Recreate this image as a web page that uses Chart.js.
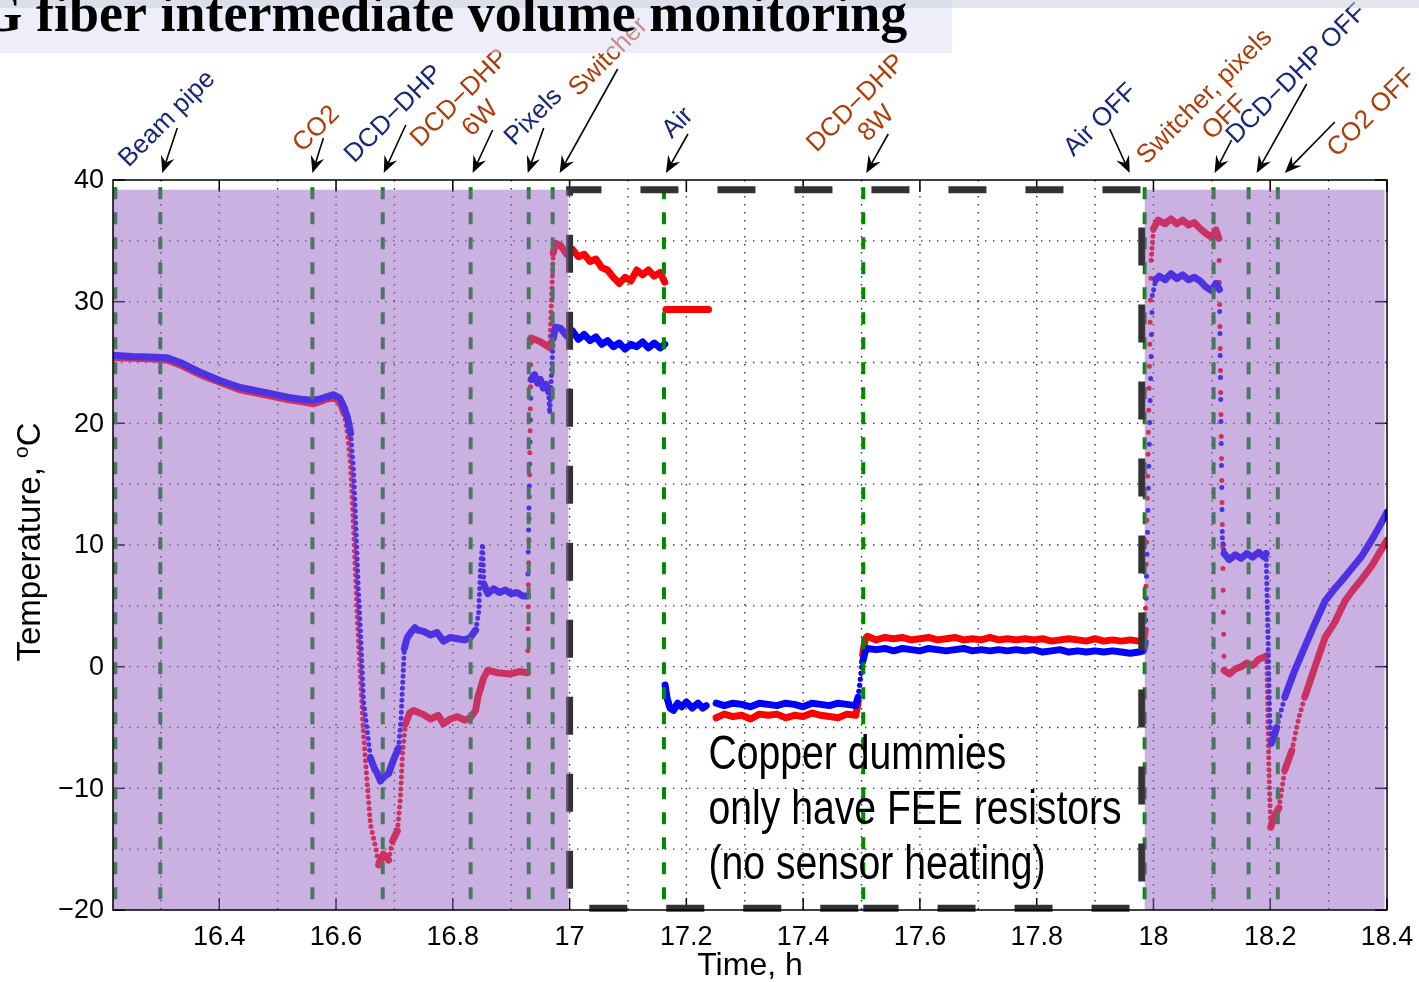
<!DOCTYPE html>
<html>
<head>
<meta charset="utf-8">
<script src="https://cdn.jsdelivr.net/npm/chart.js@4.4.1/dist/chart.umd.min.js"></script>
<style>
html, body { margin: 0; padding: 0; background: #fff; overflow: hidden; }
canvas { display: block; }
</style>
</head>
<body>
<canvas id="tempChart" width="1419" height="982"></canvas>
<script>
// sensor readings, time in hours, temperature in degC (null = no reading)
const redTime = [
  16.218, 16.25, 16.28, 16.31, 16.333, 16.367, 16.402, 16.436, 16.482, 16.517,
  16.545, 16.561, 16.573, 16.585, 16.596, 16.606, 16.614, 16.620, 16.625, 16.629,
  16.633, 16.637, 16.642, 16.647, 16.654, 16.659, 16.668, 16.673, 16.681, 16.690,
  16.697, 16.705, 16.710, 16.714, 16.719, 16.726, 16.733, 16.748, 16.762, 16.775,
  16.784, 16.796, 16.808, 16.82, 16.83, 16.839, 16.843, 16.848, 16.853, 16.86,
  16.877, 16.899, 16.914, 16.928,
  16.934, 16.94, 16.95, 16.96, 16.966, 16.969, 16.972, 16.976, 16.985, 16.995,
  17.005, 17.015, 17.025, 17.035, 17.045, 17.055, 17.065, 17.075, 17.085, 17.095,
  17.105, 17.115, 17.125, 17.135, 17.145, 17.155, 17.163,
  17.164,
  17.165, 17.238,
  17.245,
  17.251, 17.265, 17.28, 17.295, 17.31, 17.325, 17.34, 17.355, 17.37, 17.385,
  17.40, 17.415, 17.43, 17.445, 17.46, 17.475, 17.49,
  17.494, 17.498, 17.502, 17.506, 17.51,
  17.525, 17.54, 17.555, 17.57, 17.585, 17.60, 17.615, 17.63, 17.645, 17.66,
  17.675, 17.69, 17.705, 17.72, 17.735, 17.75, 17.765, 17.78, 17.795, 17.81,
  17.825, 17.84, 17.855, 17.87, 17.885, 17.90, 17.915, 17.93, 17.945, 17.96,
  17.975, 17.983,
  17.986, 17.996, 18.0, 18.008, 18.02, 18.03, 18.04, 18.05, 18.06, 18.07,
  18.08, 18.09, 18.1, 18.107, 18.112,
  18.121, 18.13, 18.14, 18.15, 18.16, 18.17, 18.18, 18.19, 18.194,
  18.196, 18.198, 18.201, 18.206, 18.215, 18.225, 18.237, 18.249, 18.259, 18.276,
  18.294, 18.31, 18.328, 18.34, 18.357, 18.374, 18.39, 18.4
];
const redTemp = [
  25.4, 25.35, 25.3, 25.2, 24.8, 24.0, 23.35, 22.75, 22.3, 21.95,
  21.75, 21.6, 21.8, 22.0, 22.1, 21.8, 20.8, 19.0, 16.5, 12.5,
  8.0, 3.5, -1.0, -5.5, -10.0, -13.0, -14.9, -16.3, -15.4, -15.9,
  -14.3, -13.5, -11.0, -7.0, -4.7, -3.8, -3.6, -3.9, -4.3, -4.0,
  -4.7, -4.3, -4.1, -4.4, -4.2, -3.6, -2.5, -1.7, -0.9, -0.3,
  -0.5, -0.6, -0.4, -0.5,
  27.0, 26.9, 26.7, 26.4, 26.2, 30.0, 34.0, 34.8, 34.6, 33.9,
  34.3, 33.7, 33.9, 33.3, 33.5, 32.8, 32.6, 32.0, 31.5, 32.0,
  31.7, 32.6, 32.2, 32.6, 32.1, 32.4, 31.6,
  null,
  29.35, 29.35,
  null,
  -4.2, -3.9, -4.1, -4.0, -4.3, -3.9, -4.0, -3.9, -4.2, -4.0,
  -4.1, -3.8, -4.0, -4.1, -4.2, -3.9, -4.0,
  -3.0, -1.0, 1.0, 2.2, 2.5,
  2.2, 2.4, 2.3, 2.4, 2.2, 2.3, 2.4, 2.2, 2.3, 2.4,
  2.2, 2.3, 2.2, 2.4, 2.2, 2.3, 2.2, 2.3, 2.2, 2.3,
  2.1, 2.2, 2.3, 2.2, 2.1, 2.3, 2.1, 2.2, 2.1, 2.2,
  2.1, 2.2,
  3.0, 33.4, 36.0, 36.7, 36.4, 36.8, 36.4, 36.7, 36.3, 36.5,
  36.0, 35.6, 35.3, 35.9, 35.2,
  -0.3, -0.6, -0.2, 0.0, 0.3, 0.1, 0.6, 0.8, 0.9,
  -4.0, -9.0, -13.2, -12.4, -11.6, -8.5, -6.9, -4.2, -2.5, -0.1,
  2.4, 3.6, 5.4, 6.2, 7.2, 8.3, 9.6, 10.4
];

const blueTime = [
  16.218, 16.25, 16.28, 16.31, 16.333, 16.367, 16.402, 16.436, 16.482, 16.517,
  16.545, 16.561, 16.573, 16.585, 16.596, 16.606, 16.614, 16.620, 16.625, 16.630,
  16.634, 16.638, 16.642, 16.647, 16.654, 16.659, 16.666, 16.671, 16.676, 16.683,
  16.69, 16.698, 16.707, 16.711, 16.714, 16.717, 16.722, 16.728, 16.735, 16.74,
  16.75, 16.762, 16.773, 16.784, 16.796, 16.808, 16.82, 16.83, 16.839, 16.844,
  16.848, 16.851, 16.853, 16.86, 16.87, 16.88, 16.89, 16.90, 16.91, 16.92, 16.928,
  16.934, 16.94, 16.945, 16.95, 16.955, 16.96, 16.964, 16.966, 16.969, 16.972, 16.976,
  16.985, 16.995, 17.005, 17.015, 17.025, 17.035, 17.045, 17.055, 17.065, 17.075,
  17.085, 17.095, 17.105, 17.115, 17.125, 17.135, 17.145, 17.155, 17.163,
  17.1632,
  17.1635, 17.167, 17.172, 17.178, 17.185, 17.192, 17.20, 17.21, 17.22, 17.228, 17.234,
  17.24,
  17.251, 17.265, 17.28, 17.295, 17.31, 17.325, 17.34, 17.355, 17.37, 17.385,
  17.40, 17.415, 17.43, 17.445, 17.46, 17.475, 17.49,
  17.494, 17.498, 17.502, 17.506, 17.51,
  17.525, 17.54, 17.555, 17.57, 17.585, 17.60, 17.615, 17.63, 17.645, 17.66,
  17.675, 17.69, 17.705, 17.72, 17.735, 17.75, 17.765, 17.78, 17.795, 17.81,
  17.825, 17.84, 17.855, 17.87, 17.885, 17.90, 17.915, 17.93, 17.945, 17.96,
  17.975, 17.983,
  17.986, 17.998, 18.004, 18.01, 18.02, 18.03, 18.04, 18.05, 18.06, 18.07,
  18.08, 18.09, 18.1, 18.107, 18.113,
  18.118, 18.121, 18.13, 18.14, 18.15, 18.16, 18.17, 18.18, 18.19, 18.193,
  18.196, 18.199, 18.202, 18.206, 18.211, 18.225, 18.242, 18.259, 18.276, 18.294,
  18.31, 18.323, 18.34, 18.357, 18.375, 18.39, 18.4
];
const blueTemp = [
  25.6, 25.5, 25.45, 25.4, 25.0, 24.2, 23.5, 22.95, 22.5, 22.15,
  21.95, 21.9, 22.0, 22.2, 22.35, 22.1, 21.3, 20.4, 19.2, 16.1,
  11.5, 6.5, 2.7, -2.8, -5.5, -7.5, -8.4, -8.8, -9.4, -9.0,
  -8.8, -7.7, -6.7, -4.5, -1.5, 1.5, 2.4, 2.8, 3.2, 3.0,
  2.9, 2.6, 2.8, 2.1, 2.4, 2.3, 2.2, 2.4, 3.0, 4.3,
  8.5, 10.1, 6.8, 6.0, 6.4, 6.1, 6.3, 6.0, 6.1, 5.8, 5.8,
  23.6, 24.0, 23.3, 23.6, 22.9, 23.2, 22.6, 20.8, 24.0, 27.0, 27.9,
  27.8, 27.2, 27.6, 26.9, 27.3, 26.8, 27.1, 26.5, 26.8, 26.3,
  26.6, 26.1, 26.5, 26.3, 26.7, 26.2, 26.6, 26.2, 26.5,
  null,
  -1.5, -2.6, -3.4, -3.6, -3.0, -3.3, -2.9, -3.4, -3.0, -3.4, -3.2,
  null,
  -3.0, -3.2, -3.0, -3.1, -3.3, -3.0, -3.1, -3.2, -3.0, -3.1,
  -3.3, -3.0, -3.1, -3.2, -3.0, -3.1, -3.2,
  -2.5, -1.0, 0.4, 1.2, 1.5,
  1.4, 1.5, 1.3, 1.5, 1.4, 1.3, 1.5, 1.4, 1.3, 1.4,
  1.5, 1.3, 1.4, 1.3, 1.4, 1.3, 1.4, 1.3, 1.4, 1.2,
  1.3, 1.4, 1.2, 1.3, 1.2, 1.3, 1.2, 1.3, 1.2, 1.1,
  1.2, 1.3,
  2.0, 30.5, 31.8, 32.1, 31.8, 32.3, 31.9, 32.2, 31.8, 32.0,
  31.7, 31.2, 30.9, 31.5, 31.0,
  10.6, 9.3, 8.8, 9.2, 8.9, 9.3, 9.0, 9.4, 9.0, 9.3,
  2.7, -4.0, -6.3, -5.8, -5.0, -2.5, -0.3, 1.6, 3.5, 5.4,
  6.4, 7.1, 8.1, 9.1, 10.5, 11.8, 12.7
];

// axes
const xMin = 16.218, xMax = 18.4, yMin = -20, yMax = 40;
const xTicks = [16.4, 16.6, 16.8, 17.0, 17.2, 17.4, 17.6, 17.8, 18.0, 18.2, 18.4];
const xTickLabels = ['16.4', '16.6', '16.8', '17', '17.2', '17.4', '17.6', '17.8', '18', '18.2', '18.4'];
const yTicks = [-20, -10, 0, 10, 20, 30, 40];
const yTickLabels = ['\u221220', '\u221210', '0', '10', '20', '30', '40'];
const gridX = [16.3, 16.4, 16.5, 16.6, 16.7, 16.8, 16.9, 17.0, 17.1, 17.2, 17.3,
  17.4, 17.5, 17.6, 17.7, 17.8, 17.9, 18.0, 18.1, 18.2, 18.3];
const gridY = [-15, -10, -5, 0, 5, 10, 15, 20, 25, 30, 35];

// operation steps (green markers) and their callouts
const stepTimes = [16.222, 16.299, 16.5595, 16.68, 16.8305, 16.93, 16.971, 17.1616,
  17.503, 17.985, 18.103, 18.163, 18.213];
const calloutTimes = [16.299, 16.5595, 16.68, 16.8305, 16.93, 16.971, 17.1616,
  17.503, 17.985, 18.103, 18.163, 18.213];
const calloutText = [['Beam pipe'], ['CO2'], ['DCD\u2212DHP'], ['DCD\u2212DHP', '6W'], ['Pixels'],
  ['Switcher'], ['Air'], ['DCD\u2212DHP', '8W'], ['Air OFF'], ['Switcher, pixels', 'OFF'],
  ['DCD\u2212DHP OFF'], ['CO2 OFF']];
const calloutKind = ['on', 'cool', 'on', 'cool', 'on', 'cool', 'on', 'cool', 'on', 'cool', 'on', 'cool'];

// shaded periods (detector powered) and the copper dummy window
const shadeStart = [16.218, 17.985];
const shadeEnd = [16.998, 18.396];
const shadeTop = 39.2;
const dummyWindow = [17.0, 17.98];
const dummyTop = 39.2, dummyBottom = -19.85;
const noteLines = ['Copper dummies', 'only have FEE resistors', '(no sensor heating)'];
const noteAt = [17.238, -8.4];

// callout geometry: head x shift, tail offset, text-centre offset (px, relative to head)
const calloutGeom = [
  [2, 15, -45, 5, -54], [0, 11, -35, 4, -44], [1, 22, -48, 10, -59], [2, 20, -43, -2.5, -64.5],
  [-1, 16, -45, 6, -56], [7, 58, -104, 49, -116], [2, 22, -39, 12, -50], [3, 22, -39, 0, -59.5],
  [-15, -20, -44, -29, -53], [1, 17, -33, 0.5, -66], [8, 50, -89, 40, -99], [7, 50, -51, 87, -60]
];
const kindColor = { on: 'rgb(22,40,122)', cool: 'rgb(172,62,12)' };
const SANS = '"Liberation Sans", Arial, Helvetica, sans-serif';

function toPoints(ts, vs) {
  return ts.map((t, i) => ({ x: t, y: vs[i] }));
}

function strokeLine(c, x1, y1, x2, y2) {
  c.beginPath();
  c.moveTo(x1, y1);
  c.lineTo(x2, y2);
  c.stroke();
}

function drawArrow(c, x1, y1, x2, y2) {
  const ang = Math.atan2(y2 - y1, x2 - x1);
  const ux = Math.cos(ang), uy = Math.sin(ang), nx = -uy, ny = ux;
  const L = 17, W = 7, notch = 11;
  c.lineWidth = 1.6;
  strokeLine(c, x1, y1, x2 - notch * ux, y2 - notch * uy);
  c.beginPath();
  c.moveTo(x2, y2);
  c.lineTo(x2 - L * ux + W * nx, y2 - L * uy + W * ny);
  c.lineTo(x2 - notch * ux, y2 - notch * uy);
  c.lineTo(x2 - L * ux - W * nx, y2 - L * uy - W * ny);
  c.closePath();
  c.fill();
}

// steep jumps are drawn as separate dots, like the sampled readings
function jumpKind(ctx) {
  const dx = Math.abs(ctx.p1.x - ctx.p0.x), dy = Math.abs(ctx.p1.y - ctx.p0.y);
  if (dy < 15 || dy < 3 * dx) return 0;
  return dy > 120 ? 2 : 1;
}
const segmentStyle = {
  borderDash: ctx => {
    const k = jumpKind(ctx);
    return k === 2 ? [0, 22] : (k === 1 ? [0, 6] : undefined);
  },
  borderWidth: ctx => jumpKind(ctx) ? 5 : undefined
};

const decor = {
  id: 'decor',
  beforeDatasetsDraw(chart) {
    const c = chart.ctx, a = chart.chartArea, xs = chart.scales.x, ys = chart.scales.y;
    c.save();
    c.strokeStyle = '#333';
    c.lineWidth = 1.4;
    c.setLineDash([1.4, 6.6]);
    gridX.forEach(t => { const x = xs.getPixelForValue(t); strokeLine(c, x, a.top, x, a.bottom); });
    gridY.forEach(v => { const y = ys.getPixelForValue(v); strokeLine(c, a.left, y, a.right, y); });
    c.setLineDash([]);
    c.strokeStyle = '#000';
    c.lineWidth = 1.5;
    xTicks.forEach(t => {
      const x = xs.getPixelForValue(t);
      strokeLine(c, x, a.bottom, x, a.bottom - 12);
      strokeLine(c, x, a.top, x, a.top + 12);
    });
    yTicks.forEach(v => {
      const y = ys.getPixelForValue(v);
      strokeLine(c, a.left, y, a.left + 12, y);
      strokeLine(c, a.right, y, a.right - 12, y);
    });
    c.restore();
  },
  afterDatasetsDraw(chart) {
    const c = chart.ctx, a = chart.chartArea, xs = chart.scales.x, ys = chart.scales.y;
    c.save();

    // step markers
    c.strokeStyle = 'rgb(0,135,0)';
    c.lineWidth = 4;
    c.setLineDash([12, 13]);
    stepTimes.forEach(t => {
      const x = xs.getPixelForValue(t);
      strokeLine(c, x, ys.getPixelForValue(39.4), x, a.bottom);
    });

    // copper dummy window
    const bl = xs.getPixelForValue(dummyWindow[0]), br = xs.getPixelForValue(dummyWindow[1]);
    const bt = ys.getPixelForValue(dummyTop), bb = ys.getPixelForValue(dummyBottom);
    c.strokeStyle = '#333';
    c.lineWidth = 7;
    c.setLineDash([38, 39]);
    c.lineDashOffset = 72;
    c.beginPath();
    c.moveTo(xs.getPixelForValue(17.503), bb);
    c.lineTo(bl, bb);
    c.lineTo(bl, bt);
    c.lineTo(br, bt);
    c.lineTo(br, bb);
    c.closePath();
    c.stroke();
    c.setLineDash([]);
    c.lineDashOffset = 0;

    // powered periods
    c.fillStyle = 'rgba(152,99,198,0.5)';
    shadeStart.forEach((s, i) => {
      const x0 = xs.getPixelForValue(s), x1 = xs.getPixelForValue(shadeEnd[i]);
      const y0 = ys.getPixelForValue(shadeTop);
      c.fillRect(x0, y0, x1 - x0, a.bottom - y0);
    });

    // frame
    c.strokeStyle = '#000';
    c.lineWidth = 1.5;
    c.strokeRect(a.left, a.top, a.right - a.left, a.bottom - a.top);

    // tick labels
    c.fillStyle = '#000';
    c.font = '27px ' + SANS;
    c.textAlign = 'center';
    c.textBaseline = 'alphabetic';
    xTicks.forEach((t, i) => c.fillText(xTickLabels[i], xs.getPixelForValue(t), a.bottom + 35));
    c.textAlign = 'right';
    c.textBaseline = 'middle';
    yTicks.forEach((v, i) => c.fillText(yTickLabels[i], a.left - 9, ys.getPixelForValue(v) + 1));

    // axis titles
    c.font = '32px ' + SANS;
    c.textAlign = 'center';
    c.textBaseline = 'alphabetic';
    c.fillText('Time, h', (a.left + a.right) / 2, a.bottom + 65);
    c.save();
    c.translate(28, (a.top + a.bottom) / 2 - 3);
    c.rotate(-Math.PI / 2);
    const main = 'Temperature, ';
    c.font = '33px ' + SANS;
    const w1 = c.measureText(main).width, w3 = c.measureText('C').width;
    c.font = '21px ' + SANS;
    const w2 = c.measureText('o').width;
    const x0 = -(w1 + w2 + w3) / 2;
    c.textAlign = 'left';
    c.font = '33px ' + SANS;
    c.fillText(main, x0, 12);
    c.font = '21px ' + SANS;
    c.fillText('o', x0 + w1, 0);
    c.font = '33px ' + SANS;
    c.fillText('C', x0 + w1 + w2, 12);
    c.restore();

    // callouts
    const headY = a.top - 7;
    c.font = '26px ' + SANS;
    calloutTimes.forEach((t, i) => {
      const g = calloutGeom[i];
      const hx = xs.getPixelForValue(t) + g[0];
      c.fillStyle = '#000';
      drawArrow(c, hx + g[1], headY + g[2], hx, headY);
      c.save();
      c.translate(hx + g[3], headY + g[4]);
      c.rotate(-Math.PI / 4);
      c.fillStyle = kindColor[calloutKind[i]];
      c.textAlign = 'center';
      c.textBaseline = 'middle';
      const lines = calloutText[i], gap = 29;
      lines.forEach((s, j) => c.fillText(s, 0, (j - (lines.length - 1) / 2) * gap));
      c.restore();
    });

    // note inside the dummy window
    c.save();
    c.translate(xs.getPixelForValue(noteAt[0]), ys.getPixelForValue(noteAt[1]));
    c.scale(0.815, 1);
    c.fillStyle = '#000';
    c.font = '48px ' + SANS;
    c.textAlign = 'left';
    c.textBaseline = 'alphabetic';
    noteLines.forEach((s, j) => c.fillText(s, 0, j * 55));
    c.restore();

    // slide header band
    c.fillStyle = 'rgba(223,223,246,0.52)';
    c.fillRect(0, 0, 952, 53);
    c.fillStyle = 'rgba(200,208,216,0.5)';
    c.fillRect(0, 0, chart.width, 8);
    c.fillStyle = '#000';
    c.font = 'bold 54px "Liberation Serif", "Times New Roman", serif';
    c.textAlign = 'left';
    c.textBaseline = 'alphabetic';
    const lead = c.measureText('G ').width;
    c.fillText('G fiber intermediate volume monitoring', 36 - lead, 31);

    c.restore();
  }
};

new Chart(document.getElementById('tempChart'), {
  type: 'line',
  data: {
    datasets: [
      {
        label: 'Sensor 1',
        data: toPoints(redTime, redTemp),
        borderColor: 'rgb(255,0,0)',
        borderWidth: 7,
        borderCapStyle: 'round',
        borderJoinStyle: 'round',
        pointRadius: 0,
        tension: 0,
        spanGaps: false,
        segment: segmentStyle,
        order: 2
      },
      {
        label: 'Sensor 2',
        data: toPoints(blueTime, blueTemp),
        borderColor: 'rgb(0,0,255)',
        borderWidth: 7,
        borderCapStyle: 'round',
        borderJoinStyle: 'round',
        pointRadius: 0,
        tension: 0,
        spanGaps: false,
        segment: segmentStyle,
        order: 1
      }
    ]
  },
  options: {
    responsive: false,
    animation: false,
    devicePixelRatio: 1,
    layout: { padding: { left: 113, right: 32, top: 180, bottom: 72 } },
    plugins: { legend: { display: false }, tooltip: { enabled: false } },
    scales: {
      x: { type: 'linear', min: xMin, max: xMax, display: false },
      y: { type: 'linear', min: yMin, max: yMax, display: false }
    }
  },
  plugins: [decor]
});
</script>
</body>
</html>
